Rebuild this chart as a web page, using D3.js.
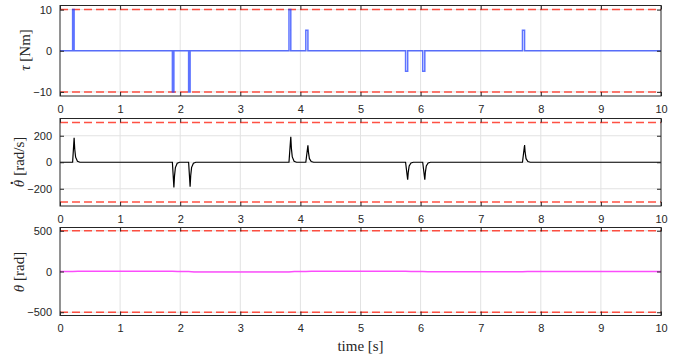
<!DOCTYPE html>
<html>
<head>
<meta charset="utf-8">
<script src="https://cdn.jsdelivr.net/npm/d3@7"></script>
<style>
  body { margin: 0; background: #fff; }
  svg { display: block; }
</style>
</head>
<body>
<svg id="chart" width="676" height="359"></svg>
<script>
// time axis
const xTicks = [0, 1, 2, 3, 4, 5, 6, 7, 8, 9, 10];

// torque tau [Nm] (step pulses)
const tauPts = [
  [0, 0], [0.21, 0], [0.21, 10], [0.235, 10], [0.235, 0],
  [1.87, 0], [1.87, -10], [1.895, -10], [1.895, 0],
  [2.14, 0], [2.14, -10], [2.165, -10], [2.165, 0],
  [3.81, 0], [3.81, 10], [3.84, 10], [3.84, 0],
  [4.09, 0], [4.09, 5], [4.125, 5], [4.125, 0],
  [5.75, 0], [5.75, -5], [5.785, -5], [5.785, 0],
  [6.035, 0], [6.035, -5], [6.07, -5], [6.07, 0],
  [7.695, 0], [7.695, 5], [7.73, 5], [7.73, 0],
  [10, 0]
];

// angular velocity [rad/s]
const omegaPts = [
  [0, 0], [0.21, 0], [0.235, 185], [0.245, 100], [0.26, 38], [0.29, 8], [0.33, 0],
  [1.87, 0], [1.895, -190], [1.905, -105], [1.92, -40], [1.95, -8], [1.99, 0],
  [2.14, 0], [2.165, -185], [2.175, -100], [2.19, -38], [2.22, -8], [2.26, 0],
  [3.81, 0], [3.84, 192], [3.85, 105], [3.865, 40], [3.895, 8], [3.935, 0],
  [4.09, 0], [4.125, 128], [4.135, 72], [4.15, 27], [4.18, 6], [4.22, 0],
  [5.75, 0], [5.785, -132], [5.795, -74], [5.81, -28], [5.84, -6], [5.88, 0],
  [6.035, 0], [6.07, -132], [6.08, -74], [6.095, -28], [6.125, -6], [6.165, 0],
  [7.695, 0], [7.73, 130], [7.74, 72], [7.755, 27], [7.785, 6], [7.825, 0],
  [10, 0]
];

// angle [rad]
const thetaPts = [
  [0, 0], [0.21, 0], [0.3, 4], [1.87, 4], [1.96, -1], [2.14, -1], [2.23, -6],
  [3.81, -6], [3.9, 0], [4.09, 0], [4.18, 4], [5.75, 4], [5.84, 0],
  [6.035, 0], [6.12, -3], [7.695, -3], [7.78, 1], [10, 1]
];

const tauTicks = [-10, 0, 10];
const omegaTicks = [-200, 0, 200];
const thetaTicks = [-500, 0, 500];

const tauLim = 10, omegaLim = 300, thetaLim = 500;

const svg = d3.select("#chart");
const left = 60, right = 661;

const x = d3.scaleLinear().domain([0, 10]).range([left, right]);

const panels = [
  { top: 5.5, bottom: 96, dom: [-11, 11], ticks: tauTicks, lim: tauLim, pts: tauPts,
    color: "#1f3dff", opacity: 0.72, width: 1.5, label: "tau", lx: 30, ly: 50 },
  { top: 118.5, bottom: 206, dom: [-330, 330], ticks: omegaTicks, lim: omegaLim, pts: omegaPts,
    color: "#000", opacity: 1, width: 1.2, label: "omega", lx: 24, ly: 162 },
  { top: 227.5, bottom: 315.5, dom: [-540, 540], ticks: thetaTicks, lim: thetaLim, pts: thetaPts,
    color: "#ff33ff", opacity: 0.85, width: 1.5, label: "theta", lx: 24, ly: 272 }
];

const tickFont = "'Liberation Sans', Arial, sans-serif";
const serif = "'Liberation Serif', 'DejaVu Serif', serif";
const axisCol = "#262626";

panels.forEach(p => {
  const y = d3.scaleLinear().domain(p.dom).range([p.bottom, p.top]);
  const g = svg.append("g");

  // grid
  g.selectAll(".vg").data(xTicks.slice(1, -1)).enter().append("line")
    .attr("x1", d => x(d)).attr("x2", d => x(d))
    .attr("y1", p.top).attr("y2", p.bottom)
    .attr("stroke", "#e2e2e2").attr("stroke-width", 1);
  g.selectAll(".hg").data(p.ticks).enter().append("line")
    .attr("x1", left).attr("x2", right)
    .attr("y1", d => y(d)).attr("y2", d => y(d))
    .attr("stroke", "#e2e2e2").attr("stroke-width", 1);

  // limit lines
  g.selectAll(".lim").data([p.lim, -p.lim]).enter().append("line")
    .attr("x1", left).attr("x2", right)
    .attr("y1", d => y(d)).attr("y2", d => y(d))
    .attr("stroke", "#ff3322").attr("stroke-opacity", 0.85)
    .attr("stroke-width", 1.5).attr("stroke-dasharray", "8,4");

  // data line
  const line = d3.line().x(d => x(d[0])).y(d => y(d[1]));
  g.append("path").datum(p.pts)
    .attr("d", line)
    .attr("fill", "none")
    .attr("stroke", p.color)
    .attr("stroke-opacity", p.opacity)
    .attr("stroke-width", p.width);

  // axes (ticks inward, box on)
  g.append("g").attr("transform", `translate(0,${p.bottom})`)
    .call(d3.axisBottom(x).tickValues(xTicks).tickSizeInner(-4).tickSizeOuter(0).tickPadding(9));
  g.append("g").attr("transform", `translate(0,${p.top})`)
    .call(d3.axisTop(x).tickValues(xTicks).tickSizeInner(-4).tickSizeOuter(0).tickFormat(""));
  g.append("g").attr("transform", `translate(${left},0)`)
    .call(d3.axisLeft(y).tickValues(p.ticks).tickSizeInner(-4).tickSizeOuter(0).tickPadding(8));
  g.append("g").attr("transform", `translate(${right},0)`)
    .call(d3.axisRight(y).tickValues(p.ticks).tickSizeInner(-4).tickSizeOuter(0).tickFormat(""));

  g.selectAll(".domain").remove();
  g.append("rect")
    .attr("x", left).attr("y", p.top)
    .attr("width", right - left).attr("height", p.bottom - p.top)
    .attr("fill", "none").attr("stroke", axisCol).attr("stroke-width", 1);

  g.selectAll(".tick line").attr("stroke", axisCol);
  g.selectAll(".tick text")
    .attr("fill", axisCol)
    .style("font-family", tickFont)
    .style("font-size", "11px");

  // y label
  const lab = g.append("text")
    .attr("transform", `translate(${p.lx},${p.ly}) rotate(-90)`)
    .attr("text-anchor", "middle")
    .attr("fill", axisCol)
    .style("font-family", serif)
    .style("font-size", "15px");
  if (p.label === "tau") {
    lab.append("tspan").style("font-style", "italic").text("τ");
    lab.append("tspan").text(" [Nm]");
  } else if (p.label === "omega") {
    lab.append("tspan").style("font-style", "italic").text("θ");
    lab.append("tspan").attr("dx", "-0.33em").attr("dy", "-0.72em").style("font-weight", "bold").text(".");
    lab.append("tspan").attr("dx", "0.1em").attr("dy", "0.72em").text(" [rad/s]");
  } else {
    lab.append("tspan").style("font-style", "italic").text("θ");
    lab.append("tspan").text(" [rad]");
  }
});

// x label
svg.append("text")
  .attr("x", (left + right) / 2).attr("y", 351)
  .attr("text-anchor", "middle")
  .attr("fill", axisCol)
  .style("font-family", serif)
  .style("font-size", "15px")
  .text("time [s]");
</script>
</body>
</html>
